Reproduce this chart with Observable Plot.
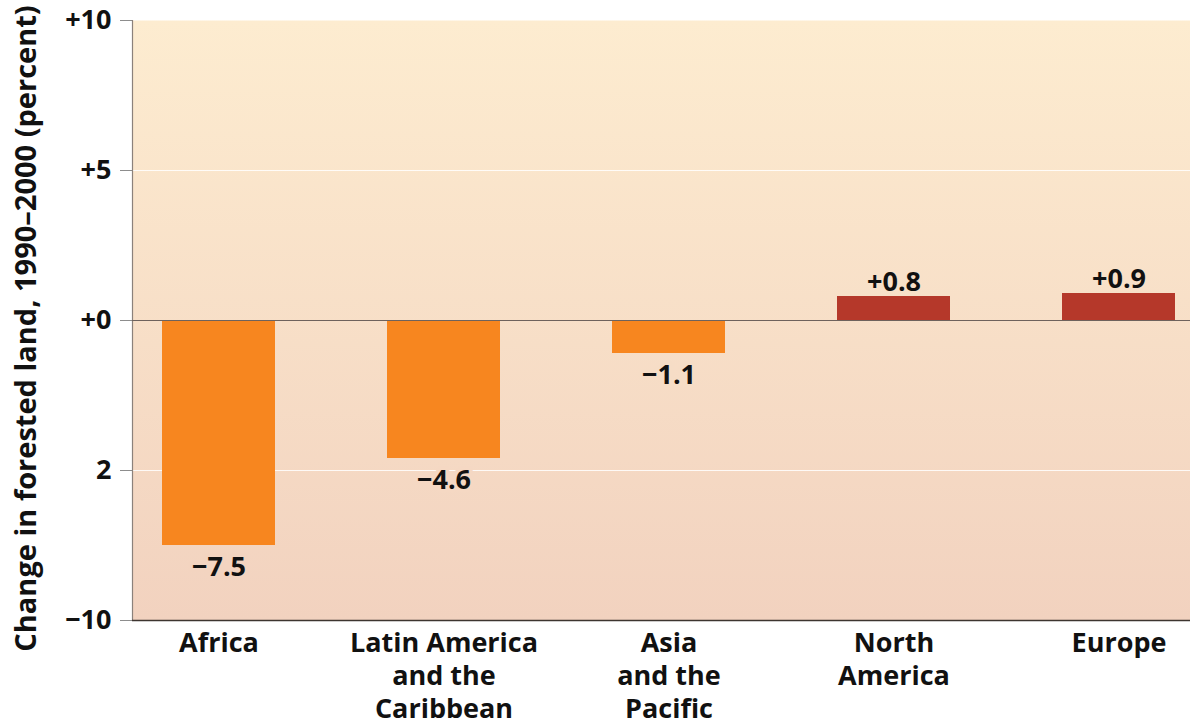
<!DOCTYPE html>
<html>
<head>
<meta charset="utf-8">
<script src="https://cdn.jsdelivr.net/npm/d3@7"></script>
<script src="https://cdn.jsdelivr.net/npm/@observablehq/plot@0.6"></script>
<style>
  html, body { margin: 0; padding: 0; background: #fff; }
  #chart svg { display: block; }
</style>
</head>
<body>
<div id="chart"></div>
<script>
// Regions and their change in forested land, 1990–2000 (percent)
const categories = ["Africa", "Latin America\nand the\nCaribbean", "Asia\nand the\nPacific", "North\nAmerica", "Europe"];
const values = [-7.5, -4.6, -1.1, 0.8, 0.9];
const valueLabels = ["\u22127.5", "\u22124.6", "\u22121.1", "+0.8", "+0.9"];
const barColors = ["#f7861f", "#f7861f", "#f7861f", "#b5382a", "#b5382a"];

// Vertical axis
const yTicks = [10, 5, 0, -5, -10];
const yTickLabels = ["+10", "+5", "+0", "2", "\u221210"];
const yLabel = "Change in forested land, 1990\u20132000 (percent)";

const bgTop = "#fdecd0";
const bgBottom = "#f2d2bf";
const bgAt = v => d3.interpolateRgb(bgTop, bgBottom)((10 - v) / 20);

const rows = categories.map((c, i) => ({
  region: c, value: values[i], label: valueLabels[i], color: barColors[i]
}));

const font = "'Open Sans', 'DejaVu Sans', sans-serif";

const chart = Plot.plot({
  width: 1190,
  height: 725,
  marginTop: 20,
  marginBottom: 105,
  marginLeft: 132,
  marginRight: 0,
  style: { fontFamily: font, color: "#111", background: "transparent" },
  x: { domain: categories, paddingInner: 0.5, paddingOuter: 0.1, align: 0.67, axis: null },
  y: { domain: [-10, 10], axis: null },
  marks: [
    Plot.frame({ fill: "url(#plotBg)", stroke: "none" }),
    Plot.ruleY([5, -5], { stroke: "#ffffff", strokeOpacity: 0.85, strokeWidth: 1.2 }),
    Plot.axisY({
      ticks: yTicks,
      tickFormat: d => yTickLabels[yTicks.indexOf(d)],
      tickSize: 12,
      tickPadding: 9,
      stroke: "#8d8d8d",
      fill: "#111",
      fontSize: 27,
      fontWeight: "bold",
      label: null
    }),
    Plot.frame({ anchor: "left", stroke: "#8b817b", strokeWidth: 1.2 }),
    Plot.barY(rows, { x: "region", y: "value", fill: "color" }),
    Plot.ruleY([0], { stroke: "#6e625c", strokeWidth: 1.2 }),
    Plot.ruleY([-10], { stroke: "#3d3530", strokeWidth: 1.6 }),
    // value labels below negative bars, above positive bars
    Plot.text(rows.filter(d => d.value < 0), {
      x: "region", y: "value", text: "label",
      lineAnchor: "top", dy: 11,
      fontSize: 27, fontWeight: "bold", fill: "#111",
      stroke: d => bgAt(d.value - 0.8), strokeWidth: 8
    }),
    Plot.text(rows.filter(d => d.value > 0), {
      x: "region", y: "value", text: "label",
      lineAnchor: "bottom", dy: -6,
      fontSize: 27, fontWeight: "bold", fill: "#111"
    }),
    // region names under the plot
    Plot.text(categories, {
      x: d => d, text: d => d,
      frameAnchor: "bottom", lineAnchor: "top", dy: 8,
      fontSize: 27, fontWeight: "bold", fill: "#111", lineHeight: 1.22
    }),
    // vertical axis title
    Plot.text([yLabel], {
      text: d => d, frameAnchor: "left", textAnchor: "middle", rotate: -90,
      dx: -106, dy: 8,
      fontSize: 29, fontWeight: "bold", fill: "#111"
    })
  ]
});

// vertical background gradient for the plotting area
const defs = d3.select(chart).insert("defs", ":first-child");
const grad = defs.append("linearGradient")
  .attr("id", "plotBg").attr("x1", 0).attr("y1", 0).attr("x2", 0).attr("y2", 1);
grad.append("stop").attr("offset", "0%").attr("stop-color", bgTop);
grad.append("stop").attr("offset", "100%").attr("stop-color", bgBottom);

document.getElementById("chart").appendChild(chart);
</script>
</body>
</html>
